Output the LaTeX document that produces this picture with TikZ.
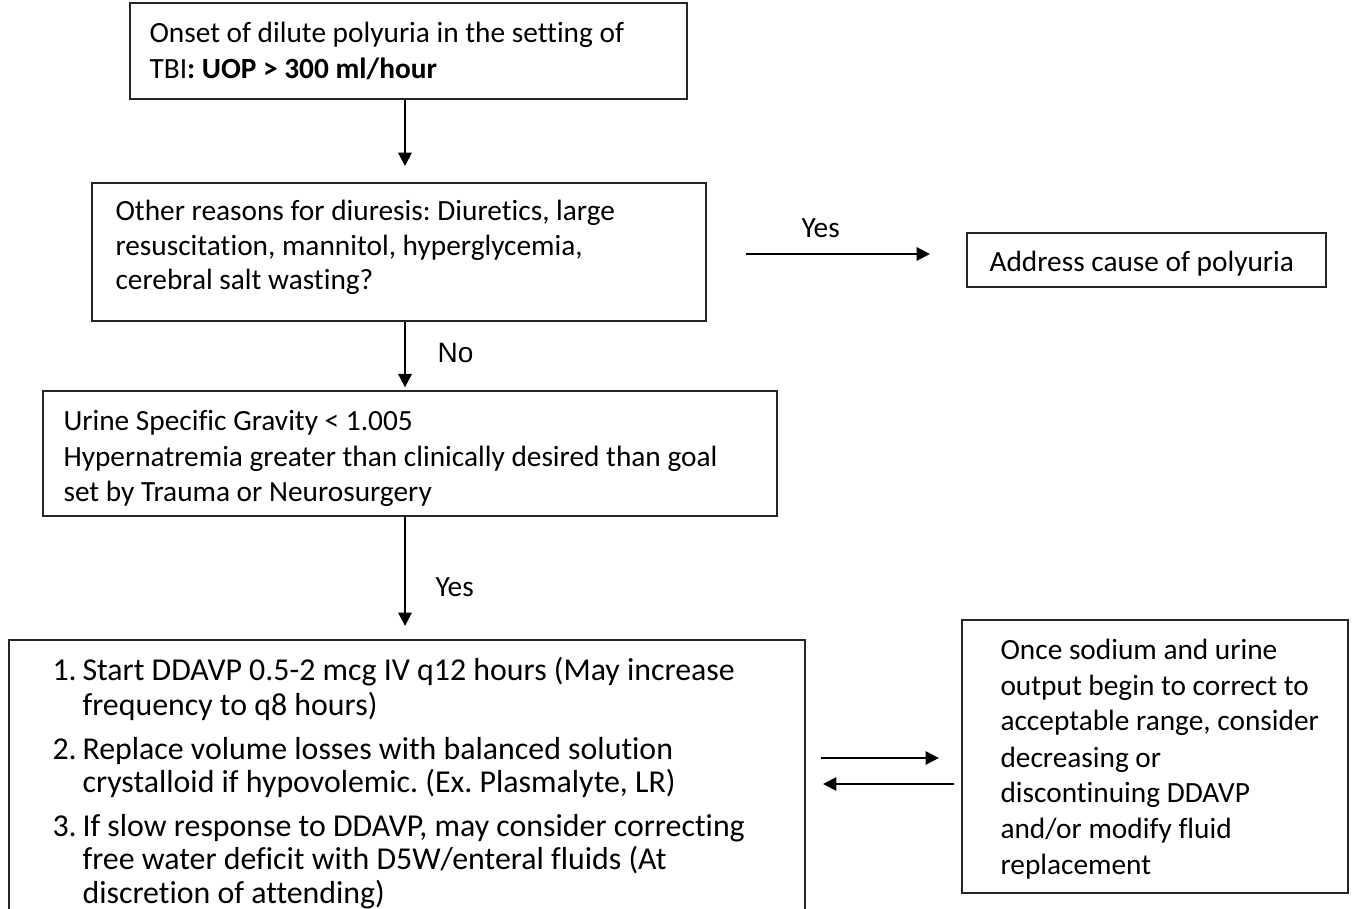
\documentclass[tikz,border=0pt]{standalone}
\usepackage{fontspec}
\setmainfont{Carlito}[Ligatures={NoCommon}]
\newfontfamily\arialf{Liberation Sans}
\newcommand\natsp{\spaceskip=0pt\xspaceskip=0pt\relax}
\usetikzlibrary{arrows.meta,fit}
\begin{document}
\frenchspacing
\begin{tikzpicture}[x=0.375pt,y=-0.375pt,
  box/.style={draw=black!85,line width=0.75pt,inner sep=0pt},
  txt/.style={inner sep=0pt,anchor=base west,align=left,text width=300pt,
     font=\frenchspacing\fontsize{11}{#1}\selectfont},
  txt/.default=13.3pt,
  itm/.style={inner sep=0pt,anchor=base west,align=left,text width=300pt,
     font=\frenchspacing\fontsize{11.95}{#1}\selectfont},
  lbl/.style={inner sep=0pt,anchor=base west,font=\fontsize{11}{13.3}\selectfont},
  arr/.style={line width=0.75pt,-{Triangle[length=5pt,width=5pt]}}]
\useasboundingbox (0,0) rectangle (1352,909);
\clip (0,0) rectangle (1352,909);
\fill[white] (0,0) rectangle (1352,909);
% boxes
\node[box,fit={(130,3) (687,99)}] (b1) {};
\node[box,fit={(92,183) (706,321)}] (b2) {};
\node[box,fit={(967,233) (1326,287)}] (b6) {};
\node[box,fit={(43,391) (777,516)}] (b3) {};
\node[box,fit={(9,640) (805,930)}] (b4) {};
\node[box,fit={(962,620) (1348,893)}] (b5) {};
% texts
\node[txt] (t1) at (149,43) {\natsp Onset of dilute polyuria in the setting of\\TBI\textbf{: UOP > 300 ml/hour}};
\node[txt=12.8pt] (t2) at (115,221) {\natsp Other reasons for diuresis: Diuretics, large\\resuscitation, mannitol, hyperglycemia,\\cerebral salt wasting?};
\node[txt] (t6) at (989,272) {\natsp Address cause of polyuria};
\node[txt] (t3) at (63,431) {\natsp Urine Specific Gravity < 1.005\\Hypernatremia greater than clinically desired than goal\\set by Trauma or Neurosurgery};
\node[itm=12.8pt] (n1) at (52,681) {1.};
\node[itm=12.8pt] (i1) at (82,681) {\natsp Start DDAVP 0.5-2 mcg IV q12 hours (May increase\\frequency to q8 hours)};
\node[itm=12.6pt] (n2) at (52,759) {2.};
\node[itm=12.6pt] (i2) at (82,759) {\natsp Replace volume losses with balanced solution\\crystalloid if hypovolemic. (Ex. Plasmalyte, LR)};
\node[itm=12.6pt] (n3) at (52,836) {3.};
\node[itm=12.6pt] (i3) at (82,836) {\natsp If slow response to DDAVP, may consider correcting\\free water deficit with D5W/enteral fluids (At\\discretion of attending)};
\node[txt=13.5pt] (t5) at (1000,659) {\natsp Once sodium and urine\\output begin to correct to\\acceptable range, consider\\decreasing or\\discontinuing DDAVP\\and/or modify fluid\\replacement};
% labels
\node[lbl] (ly1) at (801,238) {Yes};
\node[lbl,font=\arialf\fontsize{10.5}{12}\selectfont] (lno) at (437,363) {No};
\node[lbl] (ly2) at (435,596) {Yes};
% connectors
\coordinate (cx) at (405,0);
\coordinate (yy) at (0,254);
\coordinate (r1) at (0,758);
\coordinate (r2) at (0,784);
\draw[arr,shorten >=6pt] (b1.south -| cx) -- (b2.north -| cx);
\draw[arr,shorten >=1pt] (b2.south -| cx) -- (b3.north -| cx);
\draw[arr,shorten >=4.9pt] (b3.south -| cx) -- (b4.north -| cx);
\draw[arr,shorten <=14.6pt,shorten >=13.5pt] (b2.east |- yy) -- (b6.west |- yy);
\draw[arr,shorten <=5.6pt,shorten >=8.3pt] (b4.east |- r1) -- (b5.west |- r1);
\draw[arr,shorten <=2.6pt,shorten >=6.4pt] (b5.west |- r2) -- (b4.east |- r2);
\end{tikzpicture}
\end{document}
